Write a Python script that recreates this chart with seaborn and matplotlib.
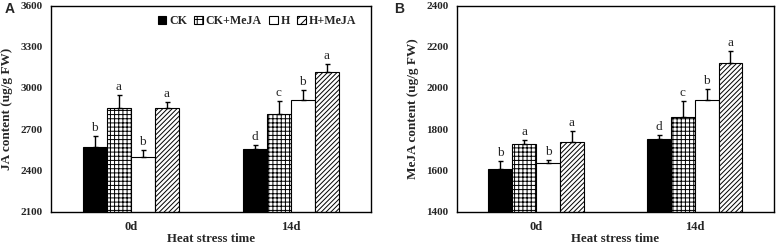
import matplotlib
matplotlib.use('Agg')
import matplotlib.pyplot as plt
from matplotlib.patches import Patch
import numpy as np
import pandas as pd
import seaborn as sns

TIMES = ['0d', '14d']
TREATMENTS = ['CK', 'CK+MeJA', 'H', 'H+MeJA']

# panel A: JA content, rows = treatment, cols = time
JA_MEAN = [[2573, 2554], [2855, 2809], [2498, 2913], [2855, 3119]]
JA_ERR = [[78, 34], [92, 95], [53, 70], [44, 57]]
JA_LETTERS = [['b', 'd'], ['a', 'c'], ['b', 'b'], ['a', 'a']]

# panel B: MeJA content
MEJA_MEAN = [[1606, 1752], [1727, 1859], [1635, 1943], [1737, 2121]]
MEJA_ERR = [[40, 20], [20, 79], [17, 52], [54, 57]]
MEJA_LETTERS = [['b', 'd'], ['a', 'c'], ['b', 'b'], ['a', 'a']]

FACE = ['black', 'white', 'white', 'white']
HATCH = ['', '++++', '', '///////']
LEG_HATCH = ['', '+++', '', '////']

SERIF = 'Liberation Serif'
plt.rcParams['hatch.linewidth'] = 0.7


def make_df(mean, err, letters):
    rows = []
    for i, t in enumerate(TREATMENTS):
        for j, tm in enumerate(TIMES):
            rows.append([tm, t, mean[i][j], err[i][j], letters[i][j]])
    return pd.DataFrame(rows, columns=['time', 'treat', 'val', 'err', 'letter'])


def draw(ax, df, ylim, yticks, ylabel):
    sns.barplot(data=df, x='time', y='val', hue='treat', order=TIMES,
                hue_order=TREATMENTS, palette=FACE, width=0.6, gap=0,
                edgecolor='black', linewidth=0.8, errorbar=None,
                legend=False, ax=ax, zorder=2)
    bars = list(ax.containers)
    for k, cont in enumerate(bars):
        sub = df[df['treat'] == TREATMENTS[k]].set_index('time').loc[TIMES]
        xs = []
        for bar in cont.patches:
            bar.set_hatch(HATCH[k])
            xs.append(bar.get_x() + bar.get_width() / 2)
        xs = np.array(xs)
        vals = sub['val'].values
        errs = sub['err'].values
        ax.errorbar(xs, vals, yerr=[np.zeros(len(errs)), errs], fmt='none',
                    ecolor='black', elinewidth=1.0, capsize=1.8, capthick=1.0,
                    zorder=3)
        for x, v, e, s in zip(xs, vals, errs, sub['letter'].values):
            ax.annotate(s, (x, v + e), xytext=(0, 1.5), textcoords='offset points',
                        ha='center', va='bottom', fontsize=9.5, family=SERIF)
    ax.set_ylim(*ylim)
    ax.set_xlim(-0.5, 1.5)
    ax.set_yticks(yticks)
    ax.set_yticklabels([str(v) for v in yticks], family=SERIF,
                       fontweight='bold', fontsize=8)
    ax.set_xticks(range(len(TIMES)))
    ax.set_xticklabels(TIMES, family=SERIF, fontweight='bold', fontsize=9)
    ax.set_xticks([-0.5, 0.5, 1.5], minor=True)
    ax.tick_params(axis='x', which='major', length=0, pad=6.5)
    ax.tick_params(axis='x', which='minor', direction='in', length=3, width=1)
    ax.tick_params(axis='y', direction='out', length=3, width=1, pad=3)
    ax.set_xlabel('Heat stress time', family=SERIF, fontweight='bold',
                  fontsize=9.3, labelpad=0.5)
    ax.set_ylabel(ylabel, family=SERIF, fontweight='bold', fontsize=9.5,
                  labelpad=5)
    for sp in ax.spines.values():
        sp.set_linewidth(1.0)
        sp.set_color('black')


def main():
    sns.set_style('white')
    fig = plt.figure(figsize=(7.78, 2.46), dpi=100)
    ax1 = fig.add_axes([0.0652, 0.1394, 0.4113, 0.8382])
    ax2 = fig.add_axes([0.587, 0.1394, 0.408, 0.8382])

    draw(ax1, make_df(JA_MEAN, JA_ERR, JA_LETTERS), (2100, 3600),
         list(range(2100, 3601, 300)), 'JA content (ug/g FW)')
    draw(ax2, make_df(MEJA_MEAN, MEJA_ERR, MEJA_LETTERS), (1400, 2400),
         list(range(1400, 2401, 200)), 'MeJA content (ug/g FW)')

    handles = [Patch(facecolor=FACE[k], edgecolor='black', hatch=LEG_HATCH[k],
                     linewidth=0.8, label=TREATMENTS[k]) for k in range(4)]
    ax1.legend(handles=handles, ncol=4, loc='upper right',
               bbox_to_anchor=(0.985, 1.0), frameon=False,
               prop={'family': SERIF, 'weight': 'bold', 'size': 8.6},
               handlelength=0.72, handleheight=0.72, handletextpad=0.25,
               columnspacing=0.6, borderaxespad=0.4)

    fig.text(0.006, 0.965, 'A', family='Liberation Sans', fontweight='bold',
             fontsize=10, va='center')
    fig.text(0.506, 0.965, 'B', family='Liberation Sans', fontweight='bold',
             fontsize=10, va='center')

    fig.savefig('out.png', dpi=100)


if __name__ == '__main__':
    main()
